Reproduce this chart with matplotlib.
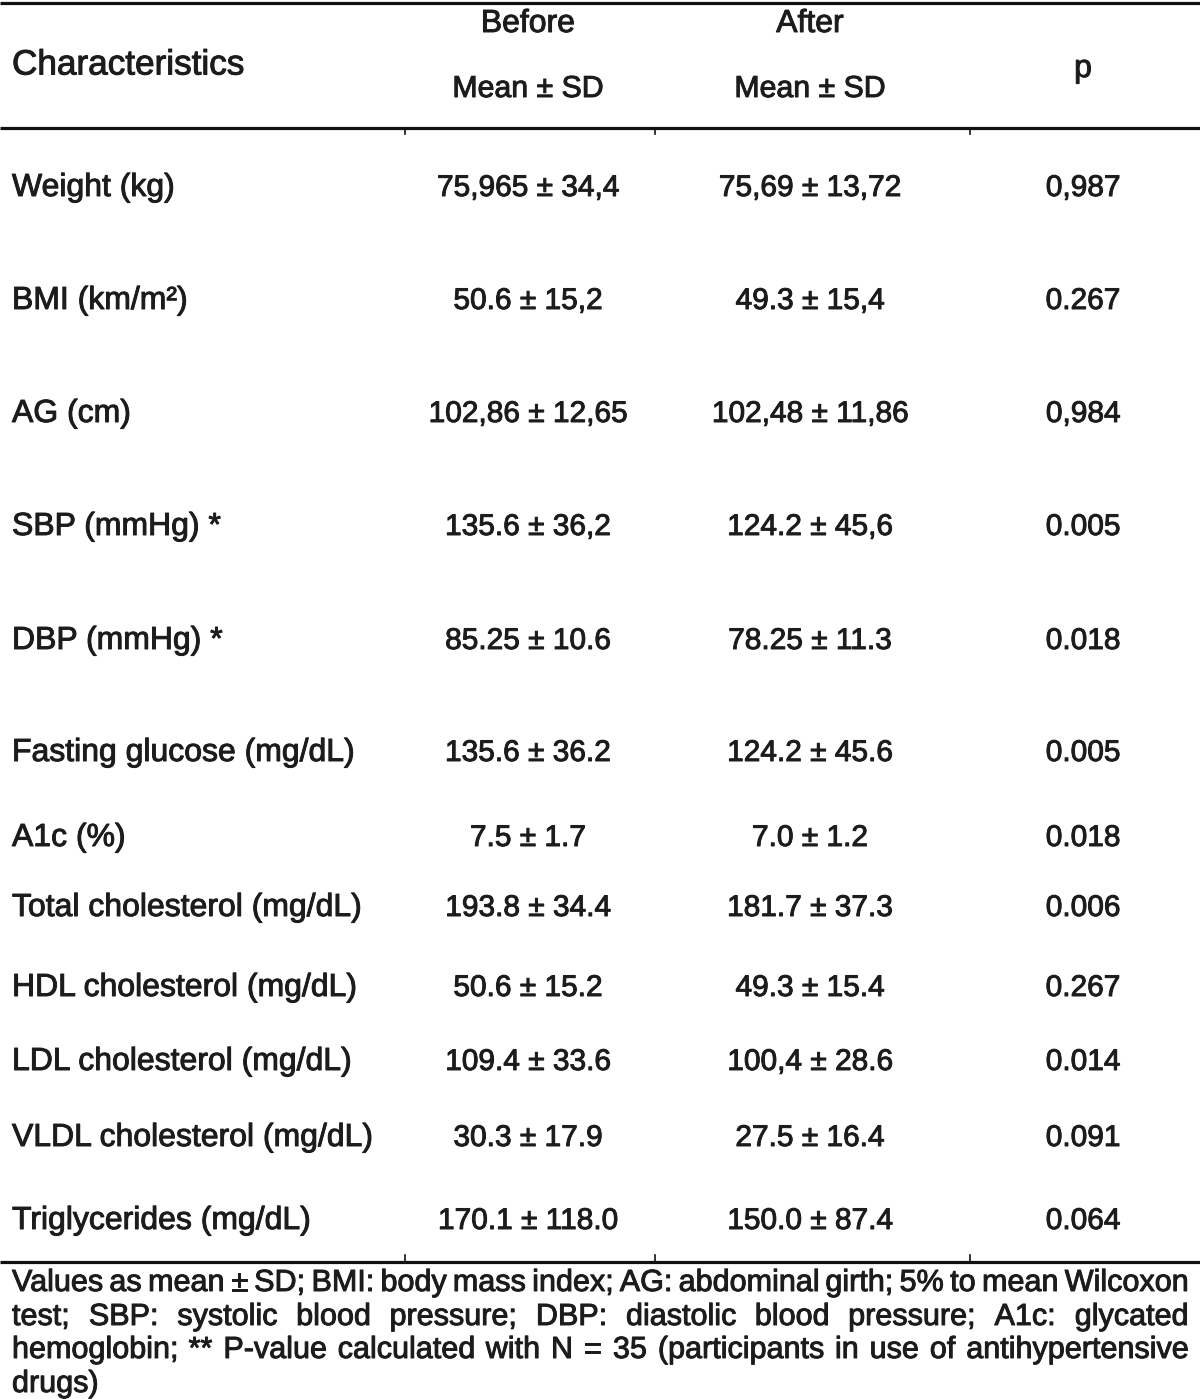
import matplotlib.pyplot as plt
import matplotlib.patheffects as pe

# table content
characteristics = ['Weight (kg)', 'BMI (km/m²)', 'AG (cm)', 'SBP (mmHg) *', 'DBP (mmHg) *',
                   'Fasting glucose (mg/dL)', 'A1c (%)', 'Total cholesterol (mg/dL)',
                   'HDL cholesterol (mg/dL)', 'LDL cholesterol (mg/dL)',
                   'VLDL cholesterol (mg/dL)', 'Triglycerides (mg/dL)']
before = ['75,965 ± 34,4', '50.6 ± 15,2', '102,86 ± 12,65', '135.6 ± 36,2', '85.25 ± 10.6',
          '135.6 ± 36.2', '7.5 ± 1.7', '193.8 ± 34.4', '50.6 ± 15.2', '109.4 ± 33.6',
          '30.3 ± 17.9', '170.1 ± 118.0']
after = ['75,69 ± 13,72', '49.3 ± 15,4', '102,48 ± 11,86', '124.2 ± 45,6', '78.25 ± 11.3',
         '124.2 ± 45.6', '7.0 ± 1.2', '181.7 ± 37.3', '49.3 ± 15.4', '100,4 ± 28.6',
         '27.5 ± 16.4', '150.0 ± 87.4']
p_values = ['0,987', '0.267', '0,984', '0.005', '0.018', '0.005', '0.018', '0.006',
            '0.267', '0.014', '0.091', '0.064']

footnote_lines = [
    'Values as mean ± SD; BMI: body mass index; AG: abdominal girth; 5% to mean Wilcoxon',
    'test; SBP: systolic blood pressure; DBP: diastolic blood pressure; A1c: glycated',
    'hemoglobin; ** P-value calculated with N = 35 (participants in use of antihypertensive',
    'drugs)',
]

# layout (pixels)
row_y = [188, 301, 414, 527, 641, 753, 838, 908, 988, 1062, 1138, 1221]
foot_y = [1283, 1317, 1350, 1384]
col_x = [12, 528, 810, 1083]
sep_x = [405, 655, 970]
W, H = 1200, 1399

plt.rcParams['font.family'] = ['Liberation Sans', 'DejaVu Sans']
txt_color = '#1c1c1c'
fs = 23      # labels
fs_val = 21.5  # numeric columns
heavy = [pe.withStroke(linewidth=0.7, foreground=txt_color)]

fig = plt.figure(figsize=(W / 100, H / 100), dpi=100)
ax = fig.add_axes([0, 0, 1, 1])
ax.set_xlim(0, W)
ax.set_ylim(H, 0)
ax.axis('off')


def put(x, y, s, size, ha):
    return ax.text(x, y, s, fontsize=size, color=txt_color, va='center', ha=ha,
                   path_effects=heavy)


# rules
for y in [3, 128, 1262]:
    ax.plot([0, W], [y, y], color='#111111', lw=2.3, solid_capstyle='butt')
for x in sep_x:
    ax.plot([x, x], [128, 134], color='#111111', lw=1.2)
    ax.plot([x, x], [1255, 1262], color='#111111', lw=1.2)

# header
put(col_x[0], 65, 'Characteristics', 25.3, 'left')
put(col_x[1], 24, 'Before', fs, 'center')
put(col_x[1], 89, 'Mean ± SD', 21.8, 'center')
put(col_x[2], 24, 'After', fs, 'center')
put(col_x[2], 89, 'Mean ± SD', 21.8, 'center')
put(col_x[3], 69, 'p', fs, 'center')

# body rows
for i in range(len(characteristics)):
    y = row_y[i]
    put(col_x[0], y, characteristics[i], fs, 'left')
    put(col_x[1], y, before[i], fs_val, 'center')
    put(col_x[2], y, after[i], fs_val, 'center')
    put(col_x[3], y, p_values[i], fs_val, 'center')

# footnote, justified between x=12 and x=1188
renderer = fig.canvas.get_renderer()
left, right = 12, 1188
for j, line in enumerate(footnote_lines):
    y = foot_y[j]
    if j == len(footnote_lines) - 1:
        put(left, y, line, fs - 1, 'left')
        continue
    words = line.split(' ')
    items = [put(0, y, w, fs - 1, 'left') for w in words]
    widths = [t.get_window_extent(renderer=renderer).width for t in items]
    gap = (right - left - sum(widths)) / (len(words) - 1)
    x = left
    for t, w in zip(items, widths):
        t.set_x(x)
        x += w + gap

fig.savefig('out.png', dpi=100, facecolor='white')
